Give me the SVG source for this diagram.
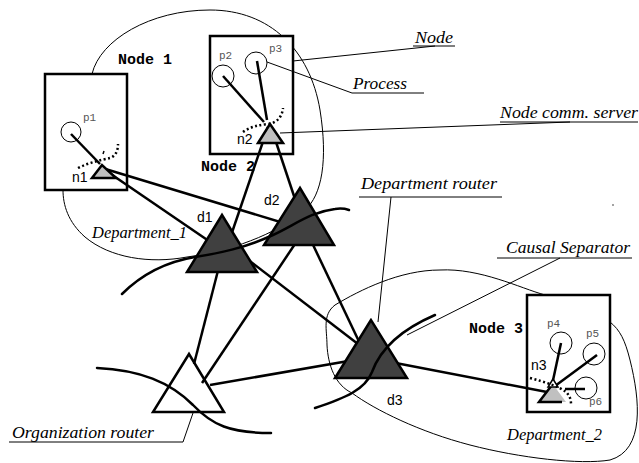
<svg xmlns="http://www.w3.org/2000/svg" width="639" height="463" viewBox="0 0 639 463">
<style>
.thin{fill:none;stroke:#000;stroke-width:1}
.thick{fill:none;stroke:#000;stroke-width:2.5}
.sep{fill:none;stroke:#000;stroke-width:2.5;stroke-linecap:round}
.dot{fill:none;stroke:#000;stroke-width:2.5;stroke-dasharray:2 2.5}
.box{fill:#fff;stroke:#000;stroke-width:2.5}
.proc{fill:none;stroke:#000;stroke-width:1}
.dr{fill:#404040;stroke:#000;stroke-width:2.5;stroke-linejoin:miter}
.ns{fill:#c0c0c0;stroke:#000;stroke-width:2.5}
.ann{font-family:"Liberation Serif",serif;font-style:italic;font-size:16px;fill:#000}
.mono{font-family:"Liberation Mono",monospace;font-weight:bold;font-size:15px;fill:#000}
.pl{font-family:"Liberation Mono",monospace;font-size:11px;fill:#555}
.sl{font-family:"Liberation Sans",sans-serif;font-size:14px;fill:#000}
</style>

<!-- departments (thin closed curves) -->
<g id="department_1">
<path class="thin" d="M92,74 C100,40 150,10 210,10 C270,10 310,50 320,110 C328,160 322,195 305,210 C285,228 240,250 187,257 C150,264 110,258 85,237 C68,222 63,205 63,190 C63,150 80,100 92,74 Z"/>
<text class="ann" x="92" y="238" textLength="95" lengthAdjust="spacingAndGlyphs">Department_1</text>
</g>
<g id="department_2">
<path class="thin" d="M545,295 C520,288 480,268 440,270 C400,270 360,290 335,305 C322,315 327,330 327,345 C328,365 335,385 352,393 C375,410 420,432 470,445 C520,458 580,465 610,460 C645,450 640,400 630,360 C625,340 620,330 610,322"/>
<text class="ann" x="507" y="440" textLength="95" lengthAdjust="spacingAndGlyphs">Department_2</text>
</g>

<!-- node boxes -->
<g id="node1">
<rect class="box" x="45" y="74" width="82" height="116"/>
<text class="mono" x="118" y="64">Node 1</text>
<circle class="proc" cx="71" cy="132" r="10"/>
<text class="pl" x="83" y="121">p1</text>
<text class="sl" x="72" y="182">n1</text>
</g>
<g id="node2">
<rect class="box" x="210" y="36" width="83" height="118"/>
<text class="mono" x="201" y="171">Node 2</text>
<circle class="proc" cx="223" cy="76" r="11"/>
<circle class="proc" cx="256" cy="63" r="11"/>
<text class="pl" x="219" y="59">p2</text>
<text class="pl" x="269" y="52">p3</text>
<text class="sl" x="237" y="144">n2</text>
</g>
<g id="node3">
<rect class="box" x="527" y="295" width="83" height="117"/>
<text class="mono" x="469" y="333">Node 3</text>
<circle class="proc" cx="561" cy="343" r="11"/>
<circle class="proc" cx="594" cy="354" r="11"/>
<circle class="proc" cx="586" cy="388" r="11"/>
<text class="pl" x="547" y="327">p4</text>
<text class="pl" x="586" y="337">p5</text>
<text class="pl" x="589" y="405">p6</text>
<text class="sl" x="531" y="370">n3</text>
</g>

<!-- organization router (white) -->
<g id="org_router">
<polygon points="189,354 153,412 224,412" fill="#fff" stroke="#000" stroke-width="2.5"/>
</g>

<!-- connectors -->
<g id="connectors">
<line class="thick" x1="71" y1="134" x2="100" y2="164"/>
<line class="thick" x1="223" y1="76" x2="264" y2="122"/>
<line class="thick" x1="257" y1="61" x2="267" y2="120"/>
<line class="thick" x1="561" y1="343" x2="552" y2="385"/>
<line class="thick" x1="597" y1="355" x2="555" y2="386"/>
<line class="thick" x1="585" y1="389" x2="565" y2="389"/>
<line class="thick" x1="102" y1="168" x2="222" y2="250"/>
<line class="thick" x1="102" y1="168" x2="300" y2="228"/>
<line class="thick" x1="268" y1="127" x2="226" y2="250"/>
<line class="thick" x1="272" y1="130" x2="297" y2="205"/>
<line class="thick" x1="225" y1="242" x2="371" y2="354"/>
<line class="thick" x1="305" y1="228" x2="364" y2="352"/>
<line class="thick" x1="222" y1="255" x2="194" y2="364"/>
<line class="thick" x1="301" y1="235" x2="202" y2="383"/>
<line class="thick" x1="210" y1="385" x2="360" y2="359"/>
<line class="thick" x1="380" y1="360" x2="547" y2="392"/>
</g>

<!-- department routers -->
<g id="d1">
<polygon class="dr" points="222,215 187,272 257,272"/>
<text class="sl" x="197" y="222">d1</text>
</g>
<g id="d2">
<polygon class="dr" points="300,188 264,245 334,245"/>
<text class="sl" x="264" y="205">d2</text>
</g>
<g id="d3">
<polygon class="dr" points="371,320 335,378 407,378"/>
<text class="sl" x="387" y="405">d3</text>
</g>

<!-- node comm servers -->
<g id="n1">
<polygon class="ns" points="102,165 92,178 116,178"/>
<path class="dot" d="M78,168 C90,162 102,160 110,158 C116,156 118,150 118,144"/>
<line x1="103" y1="154" x2="104" y2="151" stroke="#000" stroke-width="1.5"/>
</g>
<g id="n2">
<polygon class="ns" points="270,124 258,143 283,143"/>
<path class="dot" d="M243,132 C250,127 258,125 268,124 C276,123 282,118 283,108"/>
</g>
<g id="n3">
<polygon points="552,383 539,402 566,402" fill="#c0c0c0" stroke="none"/>
<polyline points="552,385 539,402 562,402" fill="none" stroke="#000" stroke-width="2.5"/>
<polygon points="553,379 548,387 558,387" fill="#fff" stroke="#000" stroke-width="1.5"/>
<path class="dot" d="M530,378 C545,382 558,386 566,392 C570,396 571,400 571,404"/>
</g>

<!-- causal separators -->
<g id="separators">
<path class="sep" d="M122,294 C140,276 165,262 195,257 C220,253 245,248 273,235 C295,225 310,212 335,209 C342,208 346,209 349,210"/>
<path class="sep" d="M97,368 C140,370 170,382 193,405 C212,425 230,433 271,433"/>
<path class="sep" d="M315,408 C345,398 365,390 372,372 C380,350 400,330 435,315"/>
</g>

<!-- annotations -->
<g id="annotations">
<line class="thin" x1="293" y1="61" x2="435" y2="46"/>
<line class="thin" x1="413" y1="46" x2="455" y2="46"/>
<text class="ann" x="415" y="43" textLength="38" lengthAdjust="spacingAndGlyphs">Node</text>
<line class="thin" x1="267" y1="62" x2="352" y2="93"/>
<line class="thin" x1="352" y1="93" x2="424" y2="93"/>
<text class="ann" x="353" y="89" textLength="54" lengthAdjust="spacingAndGlyphs">Process</text>
<line class="thin" x1="280" y1="133" x2="570" y2="122"/>
<line class="thin" x1="500" y1="122" x2="638" y2="122"/>
<text class="ann" x="500" y="118" textLength="138" lengthAdjust="spacingAndGlyphs">Node comm. server</text>
<line class="thin" x1="359" y1="197" x2="502" y2="197"/>
<line class="thin" x1="391" y1="197" x2="378" y2="322"/>
<text class="ann" x="361" y="189" textLength="136" lengthAdjust="spacingAndGlyphs">Department  router</text>
<line class="thin" x1="497" y1="258" x2="632" y2="258"/>
<line class="thin" x1="560" y1="258" x2="407" y2="335"/>
<text class="ann" x="506" y="253" textLength="124" lengthAdjust="spacingAndGlyphs">Causal Separator</text>
<line class="thin" x1="9" y1="442" x2="183" y2="442"/>
<line class="thin" x1="183" y1="442" x2="193" y2="413"/>
<text class="ann" x="12" y="438" textLength="142" lengthAdjust="spacingAndGlyphs">Organization router</text>
<circle cx="613" cy="205" r="0.7" fill="#000"/>
</g>
</svg>
